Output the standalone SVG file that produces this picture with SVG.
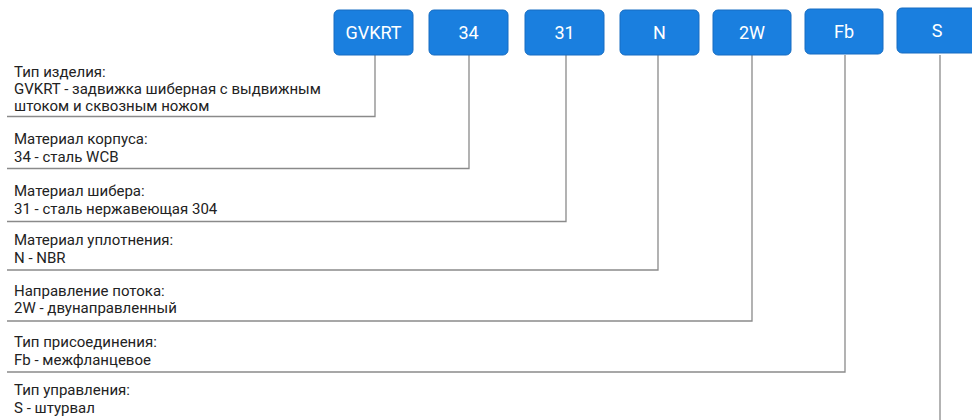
<svg xmlns="http://www.w3.org/2000/svg" width="972" height="420" viewBox="0 0 972 420">
<style>
.box{fill:#1a7fdf;stroke:#166cc2;stroke-width:1}
.bt{font-family:Roboto,"Liberation Sans",sans-serif;font-size:18px;fill:#ffffff;text-anchor:middle}
.t{font-family:Roboto,"Liberation Sans",sans-serif;font-size:15px;fill:#222222}
.c{fill:none;stroke:#8a8a8a;stroke-width:1.3}
</style>
<rect width="972" height="420" fill="#ffffff"/>
<g id="connectors">
<polyline class="c" points="375,55 375,116.5 7,116.5"/>
<polyline class="c" points="469,55 469,168.5 7,168.5"/>
<polyline class="c" points="566,55 566,221.5 7,221.5"/>
<polyline class="c" points="658,55 658,270 7,270"/>
<polyline class="c" points="752,55 752,321 7,321"/>
<polyline class="c" points="845,55 845,372 7,372"/>
<polyline class="c" points="940,55 940,420"/>
</g>
<g id="node-gvkrt"><rect class="box" x="334" y="10" width="79" height="45" rx="5"/><text class="bt" x="373.5" y="39">GVKRT</text></g>
<g id="node-34"><rect class="box" x="429" y="10" width="79" height="45" rx="5"/><text class="bt" x="468.5" y="39">34</text></g>
<g id="node-31"><rect class="box" x="525" y="10" width="79" height="45" rx="5"/><text class="bt" x="564.5" y="39">31</text></g>
<g id="node-n"><rect class="box" x="620" y="10" width="79" height="45" rx="5"/><text class="bt" x="659.5" y="39">N</text></g>
<g id="node-2w"><rect class="box" x="713" y="10" width="78" height="45" rx="5"/><text class="bt" x="752" y="39">2W</text></g>
<g id="node-fb"><rect class="box" x="805" y="9" width="78" height="45" rx="5"/><text class="bt" x="844" y="38">Fb</text></g>
<g id="node-s"><rect class="box" x="897" y="8" width="80" height="45" rx="5"/><text class="bt" x="937" y="37">S</text></g>
<g id="label-1"><text class="t" x="14" y="77">Тип изделия:</text><text class="t" x="14" y="94">GVKRT - задвижка шиберная с выдвижным</text><text class="t" x="14" y="111">штоком и сквозным ножом</text></g>
<g id="label-2"><text class="t" x="14" y="144">Материал корпуса:</text><text class="t" x="14" y="162">34 - сталь WCB</text></g>
<g id="label-3"><text class="t" x="14" y="196">Материал шибера:</text><text class="t" x="14" y="214">31 - сталь нержавеющая 304</text></g>
<g id="label-4"><text class="t" x="14" y="245">Материал уплотнения:</text><text class="t" x="14" y="263">N - NBR</text></g>
<g id="label-5"><text class="t" x="14" y="296">Направление потока:</text><text class="t" x="14" y="313">2W - двунаправленный</text></g>
<g id="label-6"><text class="t" x="14" y="347">Тип присоединения:</text><text class="t" x="14" y="365">Fb - межфланцевое</text></g>
<g id="label-7"><text class="t" x="14" y="395">Тип управления:</text><text class="t" x="14" y="413">S - штурвал</text></g>
</svg>
